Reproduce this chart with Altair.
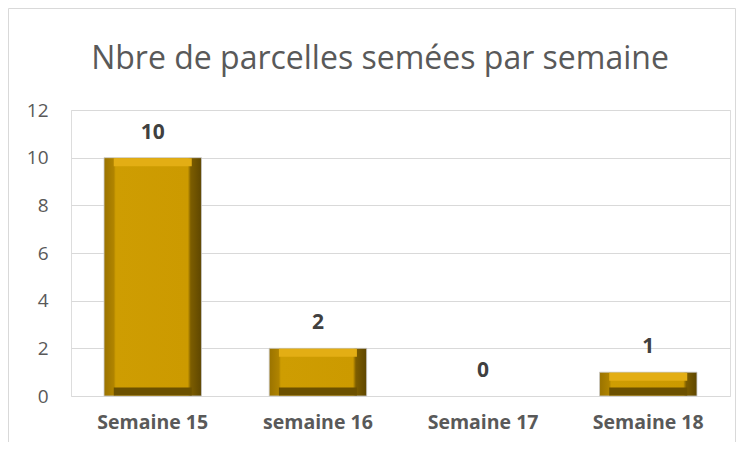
import altair as alt
import pandas as pd

semaines = ["Semaine 15", "semaine 16", "Semaine 17", "Semaine 18"]
parcelles = [10, 2, 0, 1]
y_ticks = [0, 2, 4, 6, 8, 10, 12]
titre = "Nbre de parcelles semées par semaine"

df = pd.DataFrame({"semaine": semaines, "n": parcelles, "zero": [0] * len(semaines)})

FONT = "Open Sans"
W, H = 659, 286

x_enc = alt.X("semaine:N", sort=semaines, title=None,
              scale=alt.Scale(paddingInner=0.41, paddingOuter=0.2),
              axis=alt.Axis(labelAngle=0, labelFontSize=19.5, labelFontWeight="bold",
                            labelColor="#595959", labelFont=FONT, labelPadding=17,
                            ticks=False, domain=False))
y_scale = alt.Scale(domain=[0, 12])

base = alt.Chart(df)

bars = base.mark_bar(
    stroke="#C9C9C9", strokeWidth=0.8,
    color=alt.Gradient(
        gradient="linear", x1=0, y1=0, x2=1, y2=0,
        stops=[
            alt.GradientStop(offset=0, color="#9A7300"),
            alt.GradientStop(offset=0.1, color="#B08400"),
            alt.GradientStop(offset=0.12, color="#CE9D02"),
            alt.GradientStop(offset=0.86, color="#CC9A00"),
            alt.GradientStop(offset=0.89, color="#7C5D00"),
            alt.GradientStop(offset=1, color="#5E4600"),
        ],
    ),
).encode(
    x=x_enc,
    y=alt.Y("n:Q", scale=y_scale, title=None,
            axis=alt.Axis(values=y_ticks, labelFontSize=19, labelColor="#595959",
                          labelFont=FONT, labelPadding=23, ticks=False, domain=False,
                          gridColor="#D9D9D9", gridWidth=1)),
    y2="zero:Q",
    opacity=alt.condition("datum.n > 0", alt.value(1), alt.value(0)),
)

top_bevel = base.transform_filter("datum.n > 0").mark_tick(
    size=78, thickness=8, yOffset=4.5, color="#E3AE14", opacity=1
).encode(x=alt.X("semaine:N", sort=semaines), y=alt.Y("n:Q", scale=y_scale))

bottom_bevel = base.transform_filter("datum.n > 0").mark_tick(
    size=78, thickness=8, yOffset=-4.5, color="#6C5100", opacity=1
).encode(x=alt.X("semaine:N", sort=semaines), y=alt.Y("zero:Q", scale=y_scale))

labels = base.mark_text(
    fontSize=21, fontWeight="bold", color="#404040", font=FONT,
    baseline="alphabetic", dy=-19
).encode(x=alt.X("semaine:N", sort=semaines), y=alt.Y("n:Q", scale=y_scale), text="n:Q")

one = alt.Data(values=[{"t": titre}])

border = alt.Chart(one).mark_rect(
    fillOpacity=0, stroke="#D9D9D9", strokeWidth=1
).encode(x=alt.value(-62.5), x2=alt.value(W + 5.5), y=alt.value(-101.5), y2=alt.value(H + 60))

title_mark = alt.Chart(one).mark_text(
    fontSize=32, font=FONT, color="#595959", align="center", baseline="alphabetic"
).encode(x=alt.value(309), y=alt.value(-41), text="t:N")

chart = alt.layer(border, title_mark, bars, top_bevel, bottom_bevel, labels).properties(
    width=W, height=H,
    autosize=alt.AutoSizeParams(type="none"),
    padding={"left": 63, "top": 102, "right": 7, "bottom": 46},
).configure_view(stroke=None).configure(background="white")

chart.save("out.html", embed_options={"renderer": "svg", "actions": False})
